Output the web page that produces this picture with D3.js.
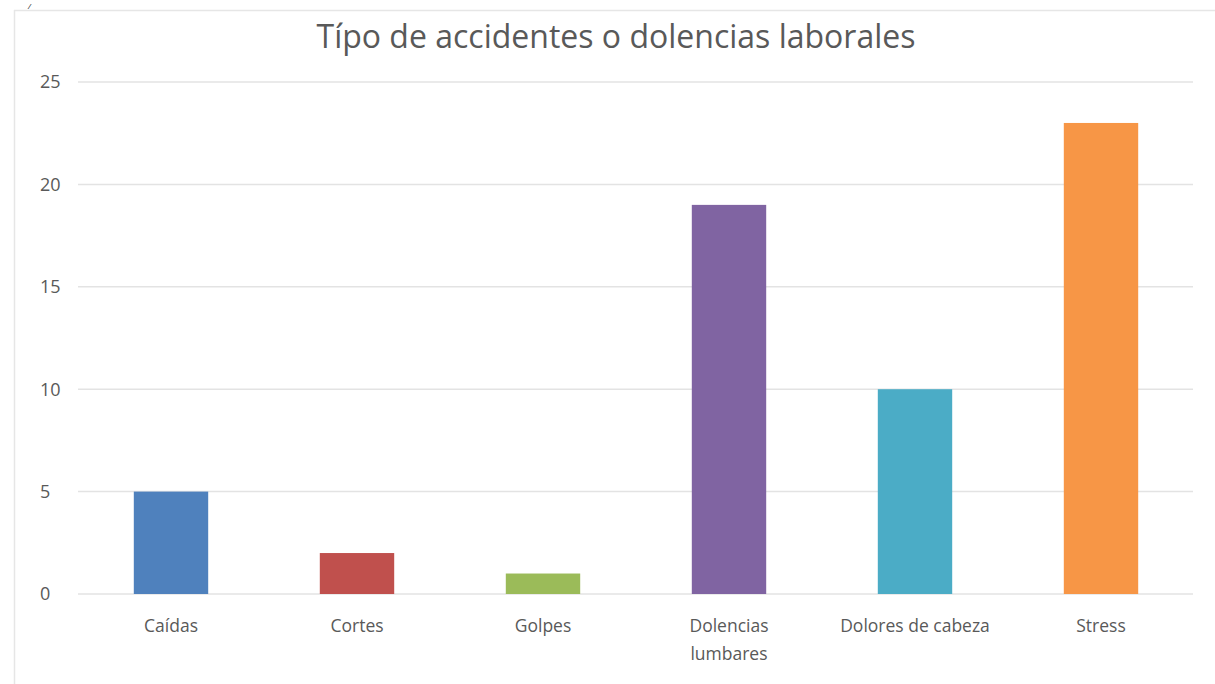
<!DOCTYPE html>
<html>
<head>
<meta charset="utf-8">
<script src="https://cdn.jsdelivr.net/npm/d3@7"></script>
<style>
  body { margin: 0; background: #fff; }
  svg { display: block; }
</style>
</head>
<body>
<svg id="chart" width="1215" height="684"></svg>
<script>
const categories = ["Caídas", "Cortes", "Golpes", "Dolencias lumbares", "Dolores de cabeza", "Stress"]
const values = [5, 2, 1, 19, 10, 23]
const colors = ["#4F81BD", "#C0504D", "#9BBB59", "#8064A2", "#4BACC6", "#F79646"]
const yTicks = [0, 5, 10, 15, 20, 25]
const title = "Típo de accidentes o dolencias laborales"

const width = 1215
const height = 684
const margin = {top: 82, left: 78, right: 22, bottom: 90}

const svg = d3.select("#chart")
const font = "'Open Sans', 'Liberation Sans', sans-serif"

// chart frame (only top/left visible in the crop)
svg.append("line").attr("x1", 14).attr("x2", width).attr("y1", 10.5).attr("y2", 10.5)
    .attr("stroke", "#e6e6e6").attr("stroke-width", 1.5)
svg.append("line").attr("x1", 14.5).attr("x2", 14.5).attr("y1", 10).attr("y2", height)
    .attr("stroke", "#e6e6e6").attr("stroke-width", 1.5)

// leftover glyph from the document above the chart
svg.append("text").attr("x", 28).attr("y", 9).text("/")
    .attr("font-family", font).attr("font-size", 8).attr("font-style", "italic").attr("fill", "#222")

var y = d3.scaleLinear().domain([0, 25]).range([594, 82])
var x = d3.scaleBand().domain(categories).range([margin.left, 1194]).paddingInner(0.6).paddingOuter(0.3)

// gridlines
svg.append("g").selectAll("line").data(yTicks).join("line")
    .attr("x1", 78).attr("x2", 1193)
    .attr("y1", d => y(d)).attr("y2", d => y(d))
    .attr("stroke", "#e3e3e3").attr("stroke-width", 1.5)

// y labels
svg.append("g").selectAll("text").data(yTicks).join("text")
    .attr("x", 40).attr("y", d => y(d)).attr("dy", "0.36em")
    .attr("font-family", font).attr("font-size", 18).attr("fill", "#595959")
    .text(d => d)

// bars
svg.append("g").selectAll("rect").data(values).join("rect")
    .attr("x", (d, i) => x(categories[i]))
    .attr("width", x.bandwidth())
    .attr("y", d => y(d))
    .attr("height", d => y(0) - y(d))
    .attr("fill", (d, i) => colors[i])

// x labels
var wrapped = {"Dolencias lumbares": ["Dolencias", "lumbares"]}
var lab = svg.append("g").selectAll("text").data(categories).join("text")
    .attr("x", d => x(d) + x.bandwidth() / 2).attr("y", 632)
    .attr("text-anchor", "middle")
    .attr("font-family", font).attr("font-size", 17.5).attr("fill", "#595959")
lab.each(function(d) {
    var lines = wrapped[d] || [d]
    d3.select(this).selectAll("tspan").data(lines).join("tspan")
        .attr("x", x(d) + x.bandwidth() / 2)
        .attr("dy", (l, i) => i == 0 ? 0 : 28)
        .text(l => l)
})

// title
svg.append("text").attr("x", 616).attr("y", 48).attr("text-anchor", "middle")
    .attr("font-family", font).attr("font-size", 32).attr("fill", "#595959")
    .text(title)
</script>
</body>
</html>
